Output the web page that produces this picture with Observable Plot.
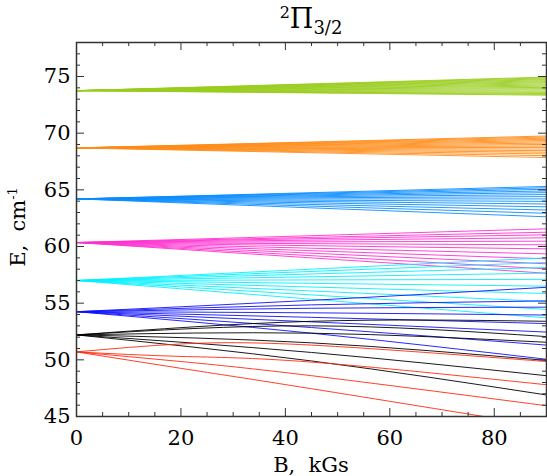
<!DOCTYPE html>
<html><head><meta charset="utf-8">
<script src="https://cdn.jsdelivr.net/npm/d3@7"></script>
<script src="https://cdn.jsdelivr.net/npm/@observablehq/plot@0.6"></script>
<style>body{margin:0;background:#fff}</style>
</head><body><div id="chart"></div>
<script>
// B grids (kGs) at which values were read
const bLinear = [0, 90];
const bCurve = [0, 45, 90];
const bRed = [0, 20, 45, 90];

// Energy levels (cm^-1)
const greenStart = 73.75;
const greenEnd = [74.95, 74.88, 74.8, 74.72, 74.63, 74.54, 74.45, 74.35, 74.25, 74.15, 74.04, 73.93, 73.82, 73.71, 73.6, 73.5, 73.42, 73.35];
const orangeStart = 68.7;
const orangeEnd = [69.75, 69.66, 69.56, 69.46, 69.35, 69.24, 69.12, 69.0, 68.87, 68.74, 68.6, 68.46, 68.32, 68.17, 68.01, 67.85];
const azureStart = 64.2;
const azureEnd = [65.3, 65.18, 65.05, 64.9, 64.75, 64.58, 64.4, 64.2, 63.98, 63.75, 63.5, 63.22, 62.93, 62.62];
const magentaStart = 60.35;
const magentaEnd = [61.56, 61.26, 61.03, 60.77, 60.47, 60.15, 59.79, 59.35, 58.91, 58.47, 58.03, 57.64];
const cyanStart = 57.0;
const cyanEnd = [59.0, 58.6, 58.15, 57.65, 57.1, 56.5, 55.85, 55.15, 54.45, 53.7];
const blueStart = 54.25;
const blueMid = [55.25, 54.85, 54.55, 54.15, 53.75, 53.35, 52.85, 52.35];
const blueEnd = [56.4, 55.2, 54.65, 53.95, 53.2, 52.45, 51.3, 50.05];
const blackStart = 52.2;
const blackMid = [53.4, 53.0, 52.35, 51.5, 50.65, 49.9];
const blackEnd = [53.4, 52.05, 51.55, 49.95, 48.6, 46.9];
const redStart = 50.7;
const red20 = [51.4, 50.3, 49.85, 49.25];
const red45 = [51.3, 49.8, 48.6, 47.45];
const redEnd = [49.85, 47.8, 45.95, 44.1];

// ticks
const xMajor = [0, 20, 40, 60, 80];
const xMinor = [5, 10, 15, 25, 30, 35, 45, 50, 55, 65, 70, 75, 85];
const yMajor = [45, 50, 55, 60, 65, 70, 75];
const yMinor = [46, 47, 48, 49, 51, 52, 53, 54, 56, 57, 58, 59, 61, 62, 63, 64, 66, 67, 68, 69, 71, 72, 73, 74, 76, 77];

const colors = {green: "#9acd1e", orange: "#ff8c1a", azure: "#0a8cff", magenta: "#ff30d0", cyan: "#00f0ff", blue: "#1010ff", black: "#000000", red: "#ff2a10"};

function rows(name, bs, cols) {
  const out = [];
  const n = cols[cols.length - 1].length;
  for (let i = 0; i < n; i++) {
    bs.forEach((b, j) => {
      const c = cols[j];
      out.push({id: name + i, B: b, E: Array.isArray(c) ? c[i] : c});
    });
  }
  return out;
}

const groups = [
  ["green", rows("g", bLinear, [greenStart, greenEnd])],
  ["orange", rows("o", bLinear, [orangeStart, orangeEnd])],
  ["azure", rows("a", bLinear, [azureStart, azureEnd])],
  ["magenta", rows("m", bLinear, [magentaStart, magentaEnd])],
  ["cyan", rows("c", bLinear, [cyanStart, cyanEnd])],
  ["blue", rows("b", bCurve, [blueStart, blueMid, blueEnd])],
  ["black", rows("k", bCurve, [blackStart, blackMid, blackEnd])],
  ["red", rows("r", bRed, [redStart, red20, red45, redEnd])]
];

const W = 547, H = 476, mL = 76, mR = 1, mT = 42, mB = 60;
const innerH = H - mT - mB, innerW = W - mL - mR;
const tickColor = "#333";
const font = "'DejaVu Serif', 'Liberation Serif', serif";

const marks = [];
for (const [name, data] of groups) {
  marks.push(Plot.line(data, {x: "B", y: "E", z: "id", stroke: colors[name], strokeWidth: 0.9, curve: "natural", clip: true}));
}
marks.push(
  Plot.tickX(xMajor, {x: d => d, insetTop: innerH - 8, stroke: tickColor}),
  Plot.tickX(xMajor, {x: d => d, insetBottom: innerH - 8, stroke: tickColor}),
  Plot.tickX(xMinor, {x: d => d, insetTop: innerH - 4, stroke: tickColor}),
  Plot.tickX(xMinor, {x: d => d, insetBottom: innerH - 4, stroke: tickColor}),
  Plot.tickY(yMajor, {y: d => d, insetRight: innerW - 8, stroke: tickColor}),
  Plot.tickY(yMajor, {y: d => d, insetLeft: innerW - 8, stroke: tickColor}),
  Plot.tickY(yMinor, {y: d => d, insetRight: innerW - 4, stroke: tickColor}),
  Plot.tickY(yMinor, {y: d => d, insetLeft: innerW - 4, stroke: tickColor}),
  Plot.frame({stroke: tickColor, strokeWidth: 1.5}),
  Plot.axisX(xMajor, {tickSize: 0, tickPadding: 14, fontSize: 21, label: null, tickFormat: d => d}),
  Plot.axisY(yMajor, {tickSize: 0, tickPadding: 6, fontSize: 21, label: null, tickFormat: d => d})
);

const chart = Plot.plot({
  width: W, height: H,
  marginLeft: mL, marginRight: mR, marginTop: mT, marginBottom: mB,
  style: {fontFamily: font, color: "#000", background: "#fff"},
  x: {domain: [0, 90]},
  y: {domain: [45, 78]},
  marks
});

const svg = d3.select(chart);
// title
const t = svg.append("text").attr("x", mL + innerW / 2).attr("y", 28)
  .attr("text-anchor", "middle").attr("font-family", font).attr("fill", "#000");
t.append("tspan").attr("font-size", 16).attr("dy", -10).text("2");
t.append("tspan").attr("font-size", 27).attr("dy", 10).text("Π");
t.append("tspan").attr("font-size", 18).attr("dy", 6).text("3/2");
// x label
svg.append("text").attr("x", mL + innerW / 2).attr("y", 472)
  .attr("text-anchor", "middle").attr("font-family", font).attr("font-size", 21).attr("fill", "#000")
  .attr("xml:space", "preserve").text("B,  kGs");
// y label
const yl = svg.append("text").attr("transform", `translate(25,${mT + innerH / 2 - 2}) rotate(-90)`)
  .attr("text-anchor", "middle").attr("font-family", font).attr("font-size", 21).attr("fill", "#000");
yl.append("tspan").attr("xml:space", "preserve").text("E,  cm");
yl.append("tspan").attr("font-size", 13).attr("dy", -8).text("-1");

document.getElementById("chart").appendChild(chart);
</script>
</body></html>
